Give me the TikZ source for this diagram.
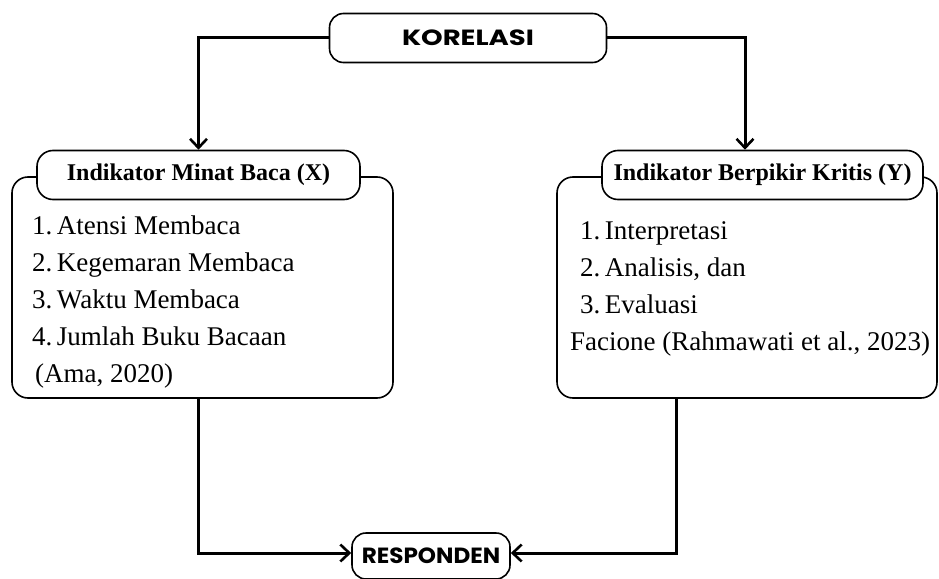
\documentclass[tikz,border=0pt]{standalone}
\usepackage{fontspec}
\setmainfont{Liberation Serif}
\newfontfamily\headfont{Poppins}
\usetikzlibrary{arrows.meta}
\newcommand{\headtext}[2][1.25]{\scalebox{#1}[1]{#2}}
\tikzset{
	headbox/.style={draw,line width=1.6pt,rounded corners=14pt,minimum width=#1,minimum height=49pt,inner sep=0pt,fill=white,font=\headfont\bfseries\fontsize{22}{26}\selectfont},
	titlebox/.style={draw,line width=1.6pt,rounded corners=16pt,minimum width=#1,minimum height=49pt,inner sep=0pt,fill=white,font=\bfseries\fontsize{24}{28}\selectfont},
	bigbox/.style={draw,line width=1.6pt,rounded corners=16pt,minimum width=#1,minimum height=221pt,inner sep=0pt},
	itemtext/.style={align=left,inner sep=0pt,font=\fontsize{27}{37}\selectfont},
	link/.style={line width=3pt,-{Straight Barb[length=9pt,width=17pt,line width=2.6pt]}}
}
\begin{document}
\begin{tikzpicture}[x=1pt,y=-1pt]
	\useasboundingbox (0,0) rectangle (939,578);
	\node [headbox=277pt] (korelasi) at (468,38) {\headtext{KORELASI}};
	
	\node [bigbox=381pt] (boxX) at (202.5,287.5) {};
	\node [titlebox=323pt] (titleX) at (198.5,175) {Indikator Minat Baca (X)};
	\node [itemtext,anchor=north west] (listX) at (32,215.5) {1.\,Atensi Membaca\\2.\,Kegemaran Membaca\\3.\,Waktu Membaca\\4.\,Jumlah Buku Bacaan\\\hspace{3pt}(Ama, 2020)};
	
	\node [bigbox=380pt] (boxY) at (747,287.5) {};
	\node [titlebox=321pt] (titleY) at (762.5,175) {Indikator Berpikir Kritis (Y)};
	\node [itemtext,anchor=north west] (listY) at (570,221.5) {\hspace{10pt}1.\,Interpretasi\\\hspace{10pt}2.\,Analisis, dan\\\hspace{10pt}3.\,Evaluasi\\Facione (Rahmawati et al., 2023)};
	
	\node [headbox=158pt,minimum height=46pt] (responden) at (431,556) {\headtext[1.05]{RESPONDEN}};
	
	\draw [link] (korelasi.west) -| (titleX.north);
	\draw [link] (korelasi.east) -| ([xshift=-17.5pt]titleY.north);
	\draw [link] ([xshift=-4.5pt]boxX.south) |- ([yshift=3pt]responden.west);
	\draw [link] ([xshift=-71pt]boxY.south) |- ([yshift=3pt]responden.east);
\end{tikzpicture}
\end{document}
